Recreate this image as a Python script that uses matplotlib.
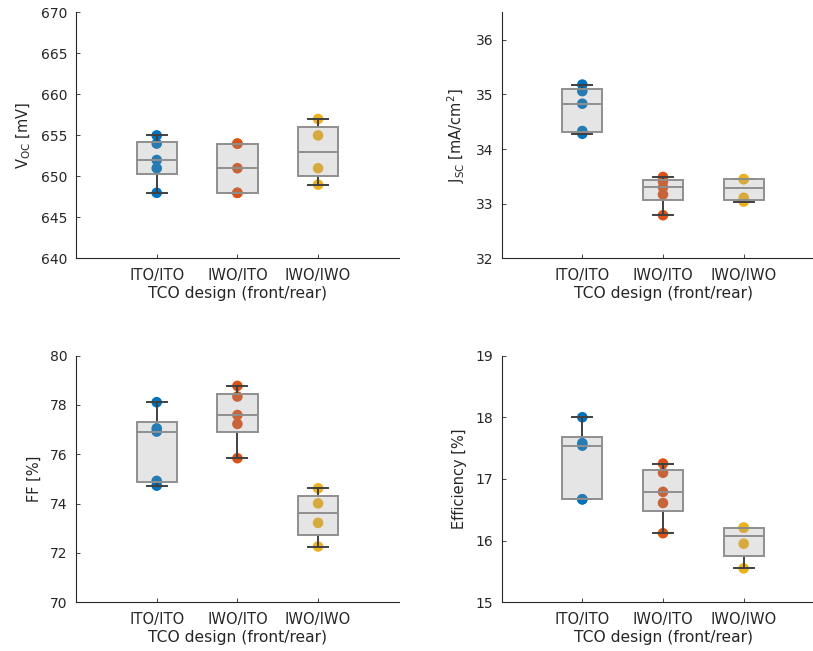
import numpy as np
import matplotlib
matplotlib.use("Agg")
import matplotlib.pyplot as plt

# TCO designs (front/rear)
designs = ["ITO/ITO", "IWO/ITO", "IWO/IWO"]
design_colors = ["#0072BD", "#D95319", "#EDB120"]

# Open-circuit voltage [mV]
voc_ito_ito = [648, 651, 652, 654, 655]
voc_iwo_ito = [648, 648, 651, 654, 654]
voc_iwo_iwo = [649, 651, 655, 657]

# Short-circuit current density [mA/cm^2]
jsc_ito_ito = [34.28, 34.33, 34.83, 35.06, 35.18]
jsc_iwo_ito = [32.79, 33.17, 33.30, 33.41, 33.49]
jsc_iwo_iwo = [33.04, 33.11, 33.45, 33.45]

# Fill factor [%]
ff_ito_ito = [74.73, 74.92, 76.92, 77.05, 78.11]
ff_iwo_ito = [75.84, 77.23, 77.59, 78.34, 78.77]
ff_iwo_iwo = [72.26, 73.22, 74.01, 74.62]

# Efficiency [%]
eff_ito_ito = [16.67, 16.67, 17.54, 17.58, 18.00]
eff_iwo_ito = [16.12, 16.61, 16.79, 17.10, 17.25]
eff_iwo_iwo = [15.55, 15.95, 16.21, 16.21]

panels = [
    dict(groups=[voc_ito_ito, voc_iwo_ito, voc_iwo_iwo],
         ylabel=r"V$_{\mathrm{OC}}$ [mV]", ylim=(640, 670),
         yticks=np.arange(640, 671, 5)),
    dict(groups=[jsc_ito_ito, jsc_iwo_ito, jsc_iwo_iwo],
         ylabel=r"J$_{\mathrm{SC}}$ [mA/cm$^{2}$]", ylim=(32, 36.5),
         yticks=np.arange(32, 37, 1)),
    dict(groups=[ff_ito_ito, ff_iwo_ito, ff_iwo_iwo],
         ylabel="FF [%]", ylim=(70, 80),
         yticks=np.arange(70, 81, 2)),
    dict(groups=[eff_ito_ito, eff_iwo_ito, eff_iwo_iwo],
         ylabel="Efficiency [%]", ylim=(15, 19),
         yticks=np.arange(15, 20, 1)),
]

positions = [
    [0.0935, 0.603, 0.397, 0.378],
    [0.617, 0.603, 0.397, 0.378],
    [0.0935, 0.0748, 0.397, 0.379],
    [0.617, 0.0748, 0.397, 0.379],
]


def box_stats(values):
    v = np.sort(np.asarray(values, dtype=float))
    q1, med, q3 = np.percentile(v, [25, 50, 75], method="hazen")
    iqr = q3 - q1
    lo = v[v >= q1 - 1.5 * iqr].min()
    hi = v[v <= q3 + 1.5 * iqr].max()
    return dict(med=med, q1=q1, q3=q3, whislo=lo, whishi=hi, fliers=[])


axis_color = "#262626"
fig = plt.figure(figsize=(8.13, 6.51), dpi=100)

for pos, p in zip(positions, panels):
    ax = fig.add_axes(pos)
    xs = np.arange(1, len(designs) + 1)

    for x, vals, c in zip(xs, p["groups"], design_colors):
        ax.scatter(np.full(len(vals), x), vals, s=58, color=c,
                   edgecolors="none", zorder=1, clip_on=False)

    stats = [box_stats(g) for g in p["groups"]]
    ax.bxp(stats, positions=xs, widths=0.5, capwidths=0.25,
           showfliers=False, patch_artist=True,
           boxprops=dict(facecolor=(0.6, 0.6, 0.6, 0.25),
                         edgecolor="#8f8f8f", linewidth=1.4, zorder=3),
           medianprops=dict(color="#8f8f8f", linewidth=1.4, zorder=4),
           whiskerprops=dict(color="#404040", linewidth=1.4, zorder=2),
           capprops=dict(color="#404040", linewidth=1.4, zorder=2))

    ax.set_xlim(0, 4)
    ax.set_ylim(*p["ylim"])
    ax.set_xticks(xs)
    ax.set_xticklabels(designs)
    ax.set_yticks(p["yticks"])
    ax.set_xlabel("TCO design (front/rear)", fontsize=11.2, color=axis_color,
                  labelpad=2)
    ax.set_ylabel(p["ylabel"], fontsize=10.5, color=axis_color, labelpad=6)

    for side in ("top", "right"):
        ax.spines[side].set_visible(False)
    for side in ("left", "bottom"):
        ax.spines[side].set_color(axis_color)
        ax.spines[side].set_linewidth(0.8)
    ax.tick_params(direction="in", length=3, width=0.6, colors=axis_color,
                   labelsize=10, pad=6)
    ax.tick_params(axis="x", labelsize=10.6, pad=7)

fig.savefig("out.png", dpi=100)
